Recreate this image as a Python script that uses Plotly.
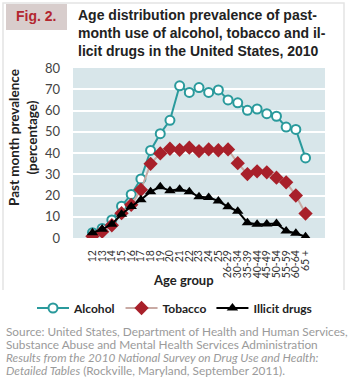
import plotly.graph_objects as go

ages = ["12", "13", "14", "15", "16", "17", "18", "19", "20", "21", "22", "23", "24", "25",
        "26-29", "30-34", "35-39", "40-44", "45-49", "50-54", "55-59", "60-64", "65 +"]
alcohol = [2.5, 4.5, 8.5, 15.0, 20.5, 27.8, 41.2, 49.1, 55.4, 71.6, 68.5, 70.8, 68.5, 69.7,
           65.0, 63.6, 60.1, 60.7, 58.5, 57.3, 52.2, 51.1, 37.7]
tobacco = [0.8, 3.0, 6.0, 11.7, 15.6, 22.7, 34.9, 39.8, 42.0, 41.5, 42.5, 40.9, 41.7, 41.3,
           41.7, 35.2, 30.1, 31.4, 30.9, 28.4, 26.2, 20.0, 11.5]
illicit = [2.5, 4.1, 6.5, 11.2, 14.8, 18.0, 21.8, 24.1, 22.2, 23.0, 21.8, 19.4, 19.1, 17.4,
           14.7, 12.6, 7.2, 6.5, 6.6, 6.8, 3.3, 2.2, 0.6]
y_ticks = [0, 10, 20, 30, 40, 50, 60, 70, 80]
source_lines = [
    "Source: United States, Department of Health and Human Services,",
    "Substance Abuse and Mental Health Services Administration",
    "<i>Results from the 2010 National Survey on Drug Use and Health:</i>",
    "<i>Detailed Tables</i> (Rockville, Maryland, September 2011).",
]

W, H = 350, 380
L, R, T, B = 73, 325, 68, 238


def px(x):
    return (x - L) / (R - L)


def py(y):
    return (B - y) / (B - T)


FONT = "Lato, 'Liberation Sans', sans-serif"
TEAL = "#2a9a9c"
RED = "#a8202a"
TAN = "#c9aaa4"

fig = go.Figure()
fig.add_trace(go.Scatter(
    x=ages, y=alcohol, name="Alcohol", mode="lines+markers",
    line=dict(color=TEAL, width=2),
    marker=dict(symbol="circle", size=9, color="white", line=dict(color=TEAL, width=2)),
))
fig.add_trace(go.Scatter(
    x=ages, y=tobacco, name="Tobacco", mode="lines+markers",
    line=dict(color=TAN, width=2),
    marker=dict(symbol="diamond", size=11, color=RED, line=dict(width=0)),
))
fig.add_trace(go.Scatter(
    x=ages, y=illicit, name="Illicit drugs", mode="lines+markers",
    line=dict(color="black", width=2),
    marker=dict(symbol="triangle-up", size=10, color="black", line=dict(width=0)),
))

annotations = [
    dict(text="Fig. 2.", x=px(36), y=py(16), xanchor="center", yanchor="middle",
         font=dict(family="'Liberation Sans', Arial, sans-serif", size=14, color="#b3262f", weight="bold"),
         showarrow=False, xref="paper", yref="paper"),
    dict(text="<b>Age distribution prevalence of past-<br>month use of alcohol, tobacco and il-<br>licit drugs in the United States, 2010</b>",
         x=px(76), y=py(5), xanchor="left", yanchor="top", align="left",
         font=dict(family="'Liberation Sans', Arial, sans-serif", size=14, color="#222222"),
         showarrow=False, xref="paper", yref="paper"),
    dict(text="<b>Past month prevalence<br>(percentage)</b>", textangle=-90,
         x=px(23), y=py(138), xanchor="center", yanchor="middle", align="center",
         font=dict(family=FONT, size=13.5, color="#222222"),
         showarrow=False, xref="paper", yref="paper"),
    dict(text="<b>Age group</b>", x=px(183), y=py(280), xanchor="center", yanchor="middle",
         font=dict(family=FONT, size=13, color="#222222"),
         showarrow=False, xref="paper", yref="paper"),
]
for i, line in enumerate(source_lines):
    annotations.append(dict(
        text=line, x=px(4), y=py(331.5 + 13.1 * i), xanchor="left", yanchor="middle", align="left",
        font=dict(family=FONT, size=11.8, color="#9a9a9a"),
        showarrow=False, xref="paper", yref="paper"))

shapes = [
    dict(type="path", xref="paper", yref="paper",
         path=f"M {px(3)},{py(290)} L {px(3)},{py(3)} L {px(344)},{py(3)} L {px(344)},{py(290)}",
         line=dict(color="#e4e4e4", width=1.5), layer="below"),
    dict(type="rect", xref="paper", yref="paper", x0=px(6), x1=px(67), y0=py(30), y1=py(4),
         fillcolor="#d8cdcc", line=dict(width=0), layer="below"),
]

fig.update_layout(
    width=W, height=H,
    margin=dict(l=L, r=W - R, t=T, b=H - B, pad=0),
    paper_bgcolor="white", plot_bgcolor="#d8e6ea",
    font=dict(family=FONT, color="#333333"),
    showlegend=True,
    legend=dict(orientation="h", xref="paper", yref="paper",
                x=px(32), xanchor="left", y=py(308), yanchor="middle",
                font=dict(family=FONT, size=12, color="#222222", weight="bold"),
                itemwidth=32, tracegroupgap=0, bgcolor="rgba(0,0,0,0)"),
    annotations=annotations, shapes=shapes,
    xaxis=dict(type="category", tickmode="array", tickvals=ages, ticktext=ages,
               tickangle=-90, showgrid=False, zeroline=False,
               ticks="", tickfont=dict(family=FONT, size=10.5, color="#333333"),
               ticklabelstandoff=9),
    yaxis=dict(range=[0, 80], tickvals=y_ticks, showgrid=True, gridcolor="white", gridwidth=1.5,
               zeroline=False, ticks="", tickfont=dict(family=FONT, size=13, color="#444444"),
               ticklabelstandoff=12),
)

fig.write_html("out.html")
